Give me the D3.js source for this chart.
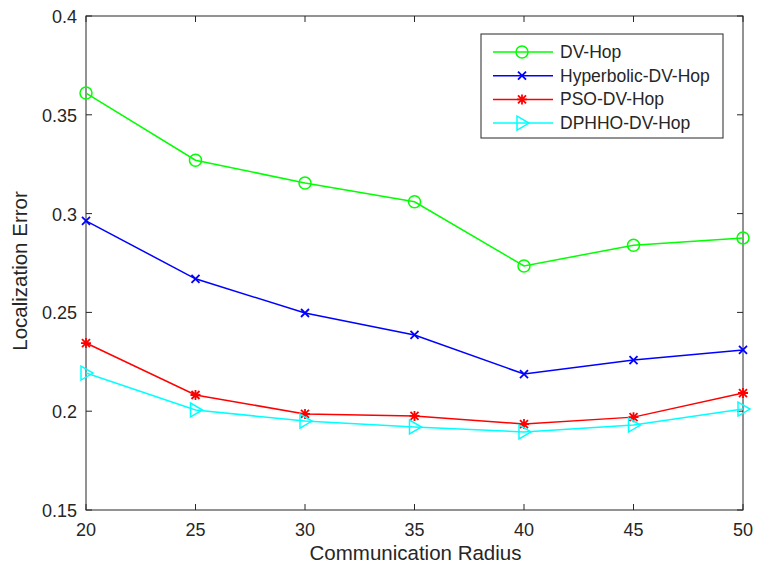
<!DOCTYPE html>
<html>
<head>
<meta charset="utf-8">
<script src="https://cdn.jsdelivr.net/npm/d3@7"></script>
<style>
  body { margin: 0; background: #fff; }
  text { font-family: "Liberation Sans", Arial, sans-serif; fill: #262626; }
</style>
</head>
<body>
<svg id="chart"></svg>
<script>
const width = 757, height = 570;
const margin = { top: 16, right: 14, bottom: 60, left: 86 };
const plotWidth = width - margin.left - margin.right;
const plotHeight = height - margin.top - margin.bottom;

// Data
const radius = [20, 25, 30, 35, 40, 45, 50];
const dvHop = [0.361, 0.327, 0.3155, 0.306, 0.2735, 0.284, 0.2877];
const hyperbolicDvHop = [0.2963, 0.267, 0.2497, 0.2386, 0.2188, 0.2259, 0.231];
const psoDvHop = [0.2345, 0.2082, 0.1986, 0.1976, 0.1935, 0.197, 0.2092];
const dphhoDvHop = [0.2193, 0.2006, 0.195, 0.192, 0.1895, 0.193, 0.2011];
const xTicks = [20, 25, 30, 35, 40, 45, 50];
const yTicks = [0.15, 0.2, 0.25, 0.3, 0.35, 0.4];

const series = [
    { name: "DV-Hop", values: dvHop, color: "#00ff00", marker: "circle" },
    { name: "Hyperbolic-DV-Hop", values: hyperbolicDvHop, color: "#0000ff", marker: "x" },
    { name: "PSO-DV-Hop", values: psoDvHop, color: "#ff0000", marker: "star" },
    { name: "DPHHO-DV-Hop", values: dphhoDvHop, color: "#00ffff", marker: "triangle" }
];

const svg = d3.select("#chart")
    .attr("width", width)
    .attr("height", height);

const g = svg.append("g")
    .attr("transform", `translate(${margin.left},${margin.top})`);

const xScale = d3.scaleLinear().domain([20, 50]).range([0, plotWidth]);
const yScale = d3.scaleLinear().domain([0.15, 0.4]).range([plotHeight, 0]);

const axisColor = "#262626";
const tickLen = 6;

// Box
g.append("rect")
    .attr("width", plotWidth)
    .attr("height", plotHeight)
    .attr("fill", "none")
    .attr("stroke", axisColor)
    .attr("stroke-width", 1);

// Inner ticks on all four sides
const ticks = g.append("g").attr("stroke", axisColor).attr("stroke-width", 1);
xTicks.forEach(t => {
    const x = xScale(t);
    ticks.append("line").attr("x1", x).attr("x2", x).attr("y1", plotHeight).attr("y2", plotHeight - tickLen);
    ticks.append("line").attr("x1", x).attr("x2", x).attr("y1", 0).attr("y2", tickLen);
});
yTicks.forEach(t => {
    const y = yScale(t);
    ticks.append("line").attr("x1", 0).attr("x2", tickLen).attr("y1", y).attr("y2", y);
    ticks.append("line").attr("x1", plotWidth).attr("x2", plotWidth - tickLen).attr("y1", y).attr("y2", y);
});

// Tick labels
g.append("g").selectAll("text")
    .data(xTicks)
    .enter()
    .append("text")
    .attr("x", d => xScale(d))
    .attr("y", plotHeight + 26)
    .attr("text-anchor", "middle")
    .attr("font-size", 18)
    .text(d => d);

g.append("g").selectAll("text")
    .data(yTicks)
    .enter()
    .append("text")
    .attr("x", -9)
    .attr("y", d => yScale(d) + 7)
    .attr("text-anchor", "end")
    .attr("font-size", 18)
    .text(d => d);

// Axis titles
svg.append("text")
    .attr("x", margin.left + plotWidth / 2 + 1)
    .attr("y", 560)
    .attr("text-anchor", "middle")
    .attr("font-size", 20.5)
    .text("Communication Radius");

svg.append("text")
    .attr("transform", `translate(27,${margin.top + plotHeight / 2 + 8}) rotate(-90)`)
    .attr("text-anchor", "middle")
    .attr("font-size", 20.5)
    .text("Localization Error");

function drawMarker(sel, type, color) {
    if (type === "circle") {
        sel.append("circle").attr("r", 6).attr("fill", "none").attr("stroke", color).attr("stroke-width", 1.5);
    } else if (type === "x") {
        sel.append("path").attr("d", "M-4,-4L4,4M-4,4L4,-4").attr("stroke", color).attr("stroke-width", 1.8);
    } else if (type === "star") {
        sel.append("path").attr("d", "M-5,0L5,0M0,-5L0,5M-4,-4L4,4M-4,4L4,-4").attr("stroke", color).attr("stroke-width", 1.8);
    } else if (type === "triangle") {
        sel.append("path").attr("d", "M-5,-7L7,0L-5,7Z").attr("fill", "none").attr("stroke", color).attr("stroke-width", 1.5);
    }
}

const line = d3.line()
    .x((d, i) => xScale(radius[i]))
    .y(d => yScale(d));

series.forEach(s => {
    g.append("path")
        .attr("d", line(s.values))
        .attr("fill", "none")
        .attr("stroke", s.color)
        .attr("stroke-width", 1.5);
    s.values.forEach((v, i) => {
        const m = g.append("g").attr("transform", `translate(${xScale(radius[i])},${yScale(v)})`);
        drawMarker(m, s.marker, s.color);
    });
});

// Legend
const legend = svg.append("g").attr("transform", "translate(481,34)");
legend.append("rect")
    .attr("width", 242)
    .attr("height", 104)
    .attr("fill", "#fff")
    .attr("stroke", axisColor)
    .attr("stroke-width", 1);

series.forEach((s, i) => {
    const y = 18 + i * 23.7;
    legend.append("line")
        .attr("x1", 12).attr("x2", 72)
        .attr("y1", y).attr("y2", y)
        .attr("stroke", s.color).attr("stroke-width", 1.5);
    const m = legend.append("g").attr("transform", `translate(41,${y})`);
    drawMarker(m, s.marker, s.color);
    legend.append("text")
        .attr("x", 79)
        .attr("y", y + 6)
        .attr("font-size", 17.5)
        .text(s.name);
});
</script>
</body>
</html>
